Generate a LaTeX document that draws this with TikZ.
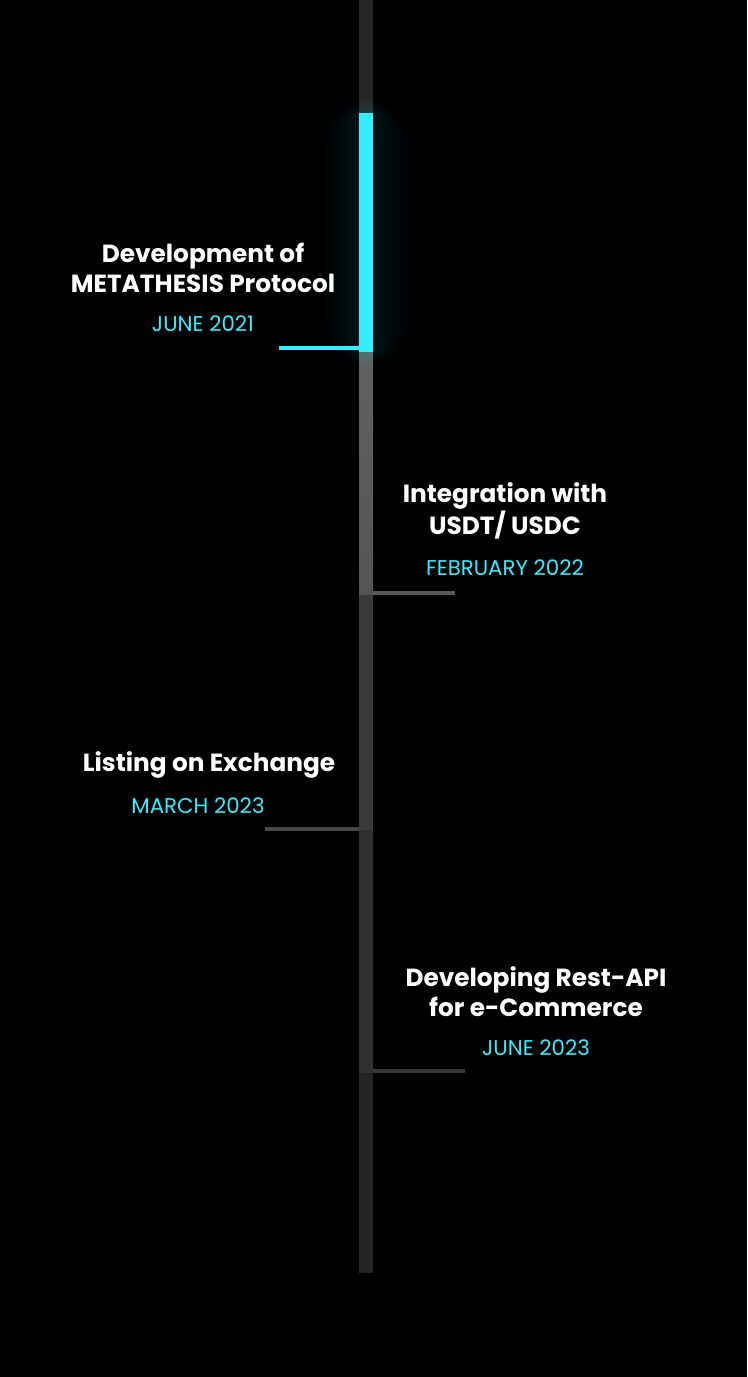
\documentclass[tikz,border=0pt]{standalone}
\usepackage{fontspec}
\setmainfont{Poppins}
\definecolor{ciano}{HTML}{33EEFF}
\definecolor{fondo}{HTML}{000000}
\begin{document}
\begin{tikzpicture}[
    x=0.75pt, y=-0.75pt,
    titolo/.style={font=\fontsize{18.6}{22.5}\selectfont\bfseries, text=white, align=center, inner sep=0pt},
    data/.style={font=\fontsize{16}{18}\selectfont, text=ciano, inner sep=0pt},
    ramo/.style={line width=3pt},
  ]

  % ---- sfondo ---------------------------------------------------------------
  \fill[fondo] (0,0) rectangle (747,1377);
  \useasboundingbox (0,0) rectangle (747,1377);

  % ---- asse verticale: x da 359 a 373 --------------------------------------
  \fill[black!85!white] (359,0)    rectangle (373,113);
  \shade[top color=black!62!white, bottom color=black!67!white] (359,352) rectangle (373,595);
  \fill[black!77!white] (359,595)  rectangle (373,830);
  \fill[black!81!white] (359,830)  rectangle (373,1073);
  \fill[black!86!white] (359,1073) rectangle (373,1273);

  % ---- alone del tratto attivo ----------------------------------------------
  \foreach \r in {2,4,...,36}
    \fill[ciano, opacity=0.008, rounded corners=\r] (359-\r,113-0.4*\r) rectangle (373+\r,352+0.4*\r);
  \fill[ciano] (359,113) rectangle (373,352);

  % ---- tappe ----------------------------------------------------------------
  \coordinate (t1) at (359,348);
  \coordinate (t2) at (373,593);
  \coordinate (t3) at (359,829);
  \coordinate (t4) at (373,1071);
  \coordinate (e1) at (279,348);
  \coordinate (e2) at (455,593);
  \coordinate (e3) at (265,829);
  \coordinate (e4) at (465,1071);

  \draw[ramo, ciano]            (t1) -- (e1);
  \draw[ramo, black!65!white]   (t2) -- (e2);
  \draw[ramo, black!72!white]   (t3) -- (e3);
  \draw[ramo, black!78!white]   (t4) -- (e4);

  % ---- etichette ------------------------------------------------------------
  \node[titolo] (n1) at (203,268) {Development of\\METATHESIS Protocol};
  \node[data]   (d1) at (203,324) {JUNE 2021};

  \node[titolo] (n2) at (505,511) {Integration with\\USDT/ USDC};
  \node[data]   (d2) at (505,568) {FEBRUARY 2022};

  \node[titolo] (n3) at (209,765) {Listing on Exchange};
  \node[data]   (d3) at (198,806) {MARCH 2023};

  \node[titolo] (n4) at (536,992) {Developing Rest-API\\for e-Commerce};
  \node[data]   (d4) at (536,1048) {JUNE 2023};

\end{tikzpicture}
\end{document}
